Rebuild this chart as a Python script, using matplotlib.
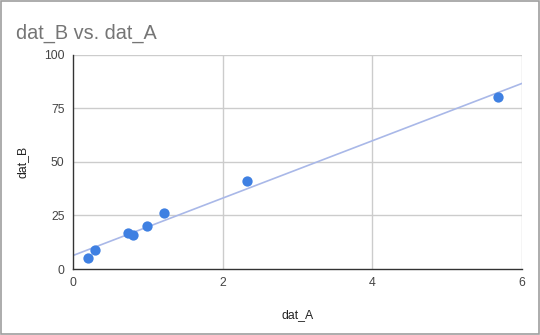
import numpy as np
import matplotlib
matplotlib.use("Agg")
import matplotlib.pyplot as plt
from matplotlib.patches import Rectangle

# data points
dat_A = [0.20, 0.29, 0.735, 0.80, 0.99, 1.22, 2.33, 5.68]
dat_B = [5.1, 8.9, 16.8, 15.9, 20.1, 26.2, 41.1, 80.4]
x_ticks = [0, 2, 4, 6]
y_ticks = [0, 25, 50, 75, 100]

plt.rcParams['font.family'] = ['Liberation Sans', 'DejaVu Sans']

fig = plt.figure(figsize=(5.4, 3.35), dpi=100)
ax = fig.add_axes([0.135, 0.197, 0.832, 0.639])

# grid
for xv in x_ticks[1:]:
    ax.axvline(xv, color='#cccccc', lw=1, zorder=0)
for yv in y_ticks[1:]:
    ax.axhline(yv, color='#cccccc', lw=1, zorder=0)

# linear trendline
slope, intercept = np.polyfit(dat_A, dat_B, 1)
xs = np.array([0, 6])
ax.plot(xs, slope * xs + intercept, color='#a9b8e8', lw=1.2, zorder=2)

ax.scatter(dat_A, dat_B, s=55, color='#3f80e2', zorder=3, linewidths=0)

ax.set_xlim(0, 6)
ax.set_ylim(0, 100)
ax.set_xticks(x_ticks)
ax.set_yticks(y_ticks)
ax.tick_params(length=0, labelsize=8.8, colors='#444444', pad=6)
for s in ['top', 'right']:
    ax.spines[s].set_visible(False)
for s in ['left', 'bottom']:
    ax.spines[s].set_color('#333333')
    ax.spines[s].set_linewidth(1)

ax.set_xlabel('dat_A', fontsize=8.8, color='#222222', labelpad=14)
ax.set_ylabel('dat_B', fontsize=8.8, color='#222222', labelpad=11)

fig.text(0.03, 0.885, 'dat_B vs. dat_A', fontsize=14.3, color='#757575')

# outer border
fig.patches.append(Rectangle((0.002, 0.003), 0.996, 0.994, transform=fig.transFigure,
                             fill=False, edgecolor='#9e9e9e', lw=1.2))

fig.savefig('out.png', dpi=100)
